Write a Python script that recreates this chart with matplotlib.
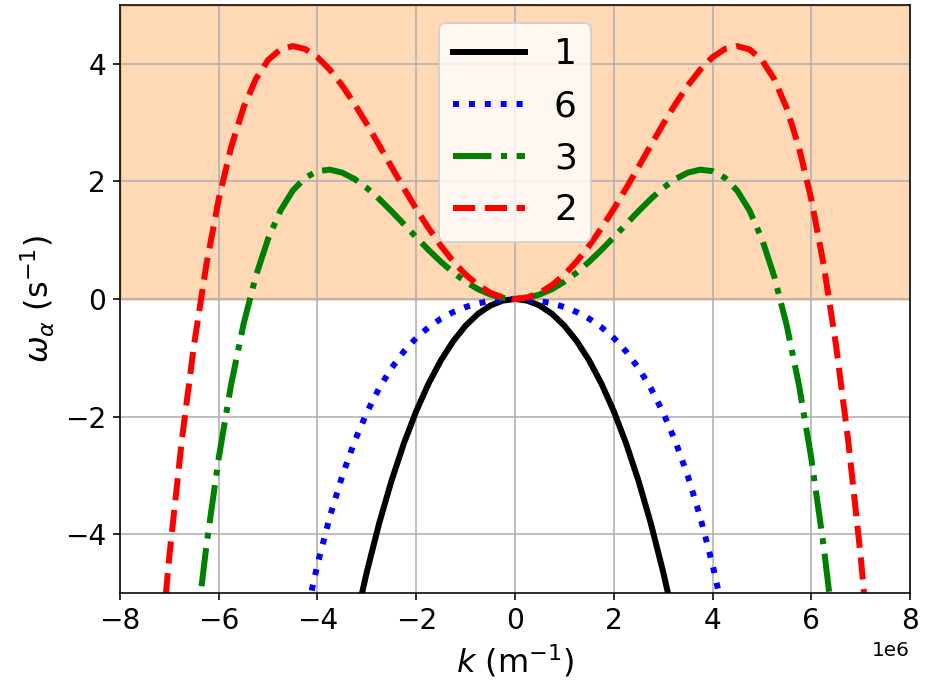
import numpy as np
import matplotlib
matplotlib.use('Agg')
import matplotlib.pyplot as plt

# k >= 0 half of each curve (units of 1e6 m^-1); the curves are symmetric in k
k_half = [0.0, 0.25, 0.5, 0.75, 1.0, 1.25, 1.5, 1.75, 2.0, 2.25, 2.5, 2.75,
          3.0, 3.25, 3.5, 3.75, 4.0, 4.25, 4.5, 4.75, 5.0, 5.25, 5.5, 5.75,
          6.0, 6.25, 6.5, 6.75, 7.0, 7.25]

w_1 = [0.0, -0.028, -0.112, -0.253, -0.454, -0.716, -1.042, -1.438, -1.907,
       -2.455, -3.088, -3.813, -4.638, -5.570, -6.619]
w_6 = [0.0, -0.008, -0.032, -0.075, -0.137, -0.222, -0.335, -0.480, -0.663,
       -0.892, -1.173, -1.515, -1.929, -2.424, -3.011, -3.704, -4.515,
       -5.459, -6.549]
w_3 = [0.0, 0.019, 0.076, 0.168, 0.294, 0.450, 0.632, 0.834, 1.050, 1.272,
       1.492, 1.701, 1.888, 2.041, 2.149, 2.199, 2.174, 2.062, 1.844, 1.504,
       1.024, 0.384, -0.437, -1.458, -2.704, -4.196, -5.959]
w_2 = [0.0, 0.027, 0.106, 0.236, 0.414, 0.638, 0.903, 1.203, 1.531, 1.882,
       2.245, 2.613, 2.974, 3.317, 3.630, 3.899, 4.111, 4.251, 4.301, 4.244,
       4.064, 3.739, 3.251, 2.578, 1.698, 0.587, -0.777, -2.422, -4.371,
       -6.653]

labels = ['1', '6', '3', '2']
colors = ['black', 'blue', 'green', 'red']
styles = ['-', ':', '-.', '--']


def full(w):
    k = np.array(k_half[:len(w)])
    w = np.array(w)
    kk = np.concatenate([-k[:0:-1], k]) * 1e6
    ww = np.concatenate([w[:0:-1], w])
    return kk, ww


fig = plt.figure(figsize=(925 / 144, 691 / 144), dpi=144)
ax = fig.add_axes([0.1297, 0.1418, 0.8541, 0.851])

ax.axhspan(0, 5, facecolor='tab:orange', edgecolor='tab:orange', alpha=0.3,
           linewidth=1.5)

for w, lab, c, ls in zip([w_1, w_6, w_3, w_2], labels, colors, styles):
    kk, ww = full(w)
    ax.plot(kk, ww, color=c, linestyle=ls, linewidth=3, label=lab)

ax.set_xlim(-8e6, 8e6)
ax.set_ylim(-5, 5)
ax.set_xticks(np.arange(-8, 9, 2) * 1e6)
ax.set_yticks([-4, -2, 0, 2, 4])
ax.tick_params(labelsize=14)
ax.grid(True)
ax.set_xlabel('$k$ (m$^{-1}$)', fontsize=16)
ax.set_ylabel(r'$\omega_\alpha$ (s$^{-1}$)', fontsize=16)
ax.legend(loc='upper center', fontsize=18)

fig.savefig('out.png', dpi=144)
